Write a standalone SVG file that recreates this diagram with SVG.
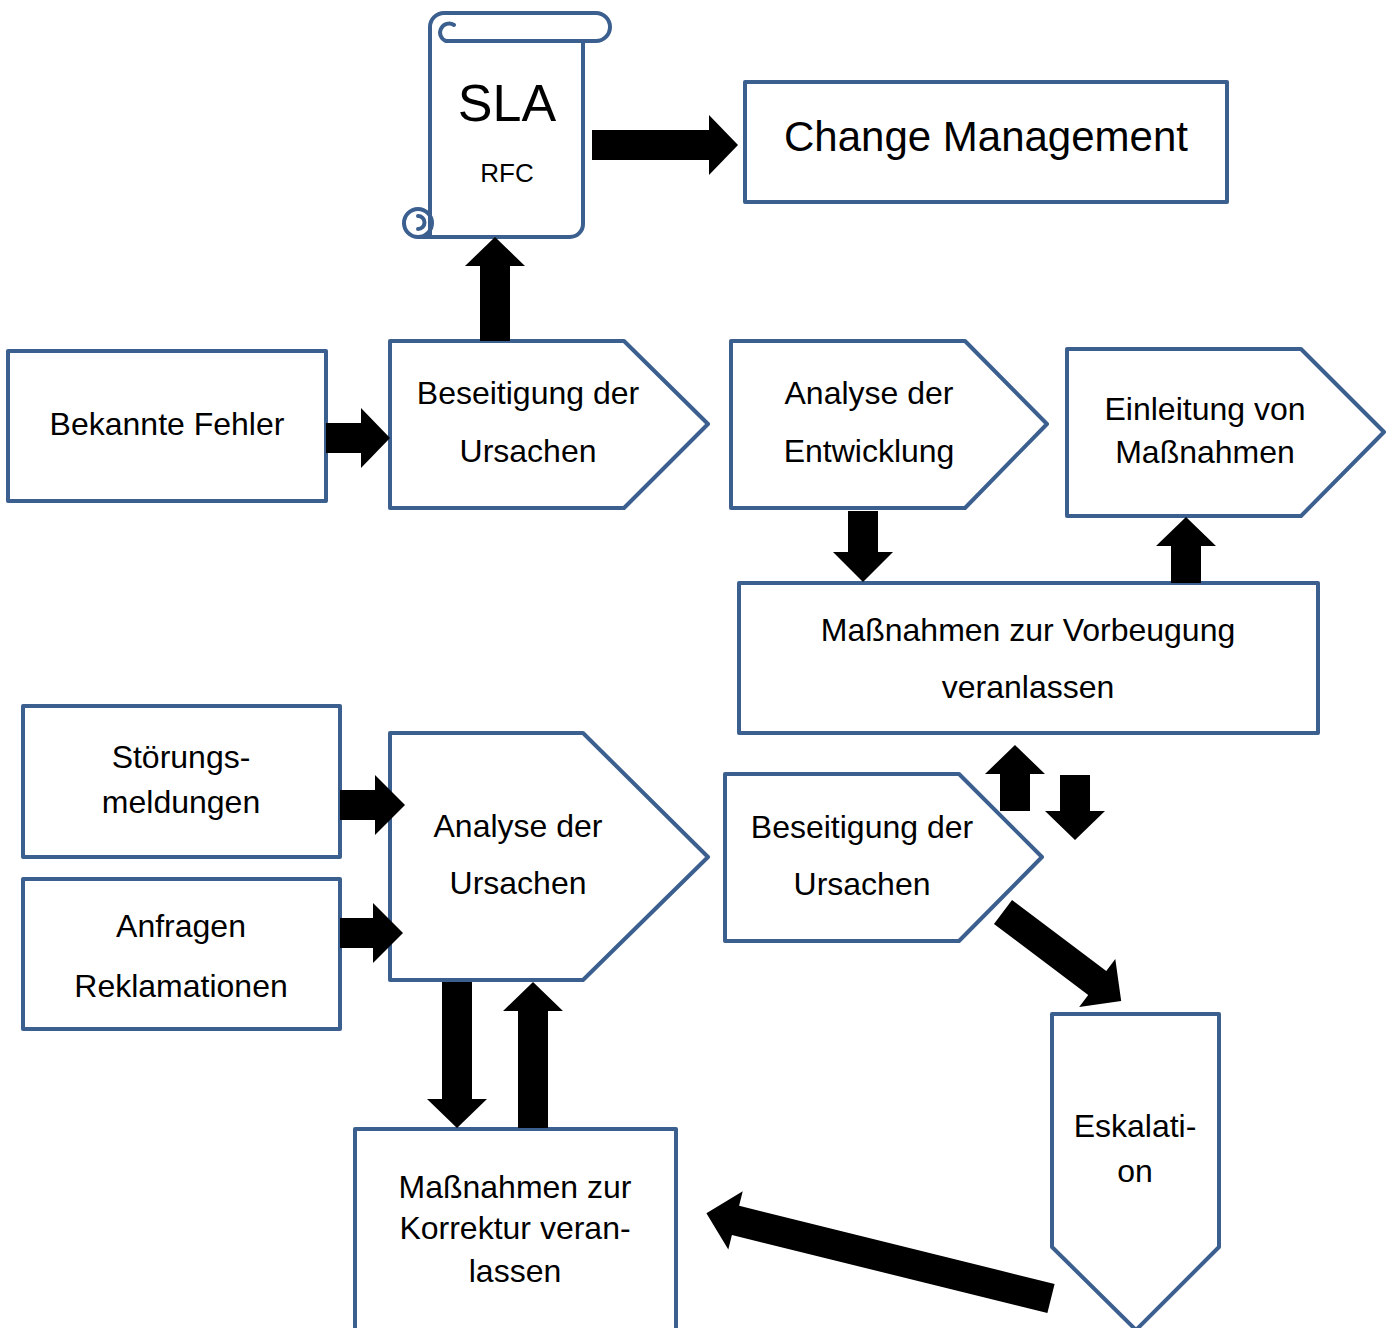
<svg xmlns="http://www.w3.org/2000/svg" width="1391" height="1328" viewBox="0 0 1391 1328">
  <style>
    .shape { fill: #ffffff; stroke: #3b5f8f; stroke-width: 4; stroke-linejoin: round; }
    .line { fill: none; stroke: #3b5f8f; stroke-width: 4; stroke-linecap: round; stroke-linejoin: round; }
    .arrow { fill: #000000; stroke: none; }
    text { font-family: "Liberation Sans", Arial, sans-serif; font-size: 32px; fill: #000000; text-anchor: middle; }
  </style>
  <rect width="1391" height="1328" fill="#ffffff"/>

  <!-- scroll: SLA / RFC -->
  <g id="sla">
    <path class="shape" d="M430,223 L430,27 A14,14 0 0 1 444,13 L596,13 A14,14 0 0 1 596,41 L583,41 L583,224 A13,13 0 0 1 570,237 L418,237 Z"/>
    <circle class="shape" cx="418" cy="223" r="14"/>
    <path class="line" d="M430,213 L430,237"/>
    <path class="line" d="M418,216 A6,6 0 0 1 418,229"/>
    <path class="line" d="M454,25 A9,9 0 1 0 446,41 L583,41"/>
    <text x="507" y="121" style="font-size:52px">SLA</text>
    <text x="507" y="182" style="font-size:26px">RFC</text>
  </g>

  <g id="change-management">
    <rect class="shape" x="745" y="82" width="482" height="120"/>
    <text x="986" y="151" style="font-size:42px">Change Management</text>
  </g>

  <g id="bekannte-fehler">
    <rect class="shape" x="8" y="351" width="318" height="150"/>
    <text x="167" y="435">Bekannte Fehler</text>
  </g>

  <g id="beseitigung-1">
    <polygon class="shape" points="390,341 624,341 708,424 624,508 390,508"/>
    <text x="528" y="404">Beseitigung der</text>
    <text x="528" y="462">Ursachen</text>
  </g>

  <g id="analyse-entwicklung">
    <polygon class="shape" points="731,341 965,341 1047,424 965,508 731,508"/>
    <text x="869" y="404">Analyse der</text>
    <text x="869" y="462">Entwicklung</text>
  </g>

  <g id="einleitung">
    <polygon class="shape" points="1067,349 1301,349 1384,432 1301,516 1067,516"/>
    <text x="1205" y="420">Einleitung von</text>
    <text x="1205" y="463">Maßnahmen</text>
  </g>

  <g id="vorbeugung">
    <rect class="shape" x="739" y="583" width="579" height="150"/>
    <text x="1028" y="641">Maßnahmen zur Vorbeugung</text>
    <text x="1028" y="698">veranlassen</text>
  </g>

  <g id="stoerungsmeldungen">
    <rect class="shape" x="23" y="706" width="317" height="151"/>
    <text x="181" y="768">Störungs-</text>
    <text x="181" y="813">meldungen</text>
  </g>

  <g id="anfragen">
    <rect class="shape" x="23" y="879" width="317" height="150"/>
    <text x="181" y="937">Anfragen</text>
    <text x="181" y="997">Reklamationen</text>
  </g>

  <g id="analyse-ursachen">
    <polygon class="shape" points="390,733 583,733 708,857 583,980 390,980"/>
    <text x="518" y="837">Analyse der</text>
    <text x="518" y="894">Ursachen</text>
  </g>

  <g id="beseitigung-2">
    <polygon class="shape" points="725,774 959,774 1042,857 959,941 725,941"/>
    <text x="862" y="838">Beseitigung der</text>
    <text x="862" y="895">Ursachen</text>
  </g>

  <g id="eskalation">
    <polygon class="shape" points="1052,1014 1219,1014 1219,1247 1136,1330 1052,1247"/>
    <text x="1135" y="1137">Eskalati-</text>
    <text x="1135" y="1182">on</text>
  </g>

  <g id="korrektur">
    <rect class="shape" x="355" y="1129" width="321" height="215"/>
    <text x="515" y="1198">Maßnahmen zur</text>
    <text x="515" y="1239">Korrektur veran-</text>
    <text x="515" y="1282">lassen</text>
  </g>

  <!-- connectors: black block arrows, drawn over the node outlines -->
  <g id="connectors">
    <!-- SLA to Change Management -->
    <polygon class="arrow" points="592,130 709,130 709,115 738,145 709,175 709,160 592,160"/>
    <!-- Beseitigung der Ursachen up to SLA -->
    <polygon class="arrow" points="480,341 480,266 465,266 495,237 525,266 510,266 510,341"/>
    <!-- Bekannte Fehler to Beseitigung der Ursachen -->
    <polygon class="arrow" points="326,423 361,423 361,408 390,438 361,468 361,453 326,453"/>
    <!-- Analyse der Entwicklung down to Vorbeugung -->
    <polygon class="arrow" points="848,511 878,511 878,552 893,552 863,582 833,552 848,552"/>
    <!-- Vorbeugung up to Einleitung von Massnahmen -->
    <polygon class="arrow" points="1171,583 1171,546 1156,546 1186,517 1216,546 1201,546 1201,583"/>
    <!-- Stoerungsmeldungen to Analyse der Ursachen -->
    <polygon class="arrow" points="340,790 375,790 375,775 405,805 375,835 375,820 340,820"/>
    <!-- Anfragen to Analyse der Ursachen -->
    <polygon class="arrow" points="340,918 373,918 373,903 403,933 373,963 373,948 340,948"/>
    <!-- Analyse der Ursachen down to Korrektur -->
    <polygon class="arrow" points="442,982 472,982 472,1099 487,1099 457,1128 427,1099 442,1099"/>
    <!-- Korrektur up to Analyse der Ursachen -->
    <polygon class="arrow" points="518,1128 518,1011 503,1011 533,982 563,1011 548,1011 548,1128"/>
    <!-- Beseitigung up to Vorbeugung -->
    <polygon class="arrow" points="1000,811 1000,774 985,774 1015,745 1045,774 1030,774 1030,811"/>
    <!-- Vorbeugung down to Beseitigung -->
    <polygon class="arrow" points="1060,775 1090,775 1090,811 1105,811 1075,840 1045,811 1060,811"/>
    <!-- Beseitigung to Eskalation -->
    <polygon class="arrow" transform="translate(1003,912) rotate(37)" points="0,-15 118,-15 118,-30 148,0 118,30 118,15 0,15"/>
    <!-- Eskalation back to Korrektur -->
    <polygon class="arrow" transform="translate(1051,1298.5) rotate(193.9)" points="0,-15 325,-15 325,-30 355,0 325,30 325,15 0,15"/>
  </g>
</svg>
